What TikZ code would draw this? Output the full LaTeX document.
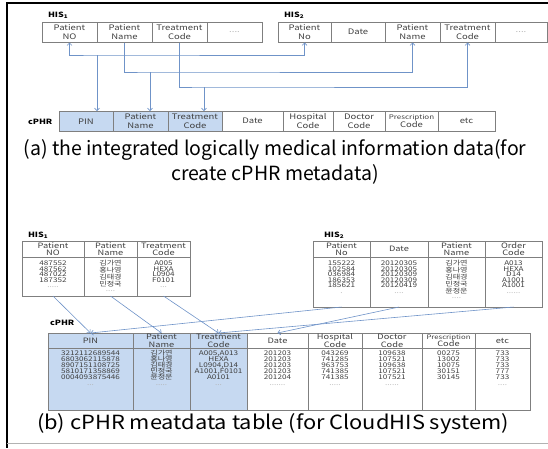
\documentclass[tikz,border=0pt]{standalone}
\usepackage{fontspec}
\setmainfont{Noto Sans CJK KR}
\newfontfamily\tabfont{Noto Sans CJK KR}[FakeStretch=1.25]
\newfontfamily\capwide{Noto Sans CJK KR}[FakeStretch=1.12]
\usetikzlibrary{arrows.meta}
\definecolor{linkblue}{HTML}{6F93C8}
\definecolor{keyfill}{HTML}{C6D9F1}
\definecolor{gridgray}{HTML}{7F7F7F}
\definecolor{txtgray}{HTML}{404040}
\newcommand{\dotsgray}[1]{{\color{gray!60}#1}}
\newcommand{\tightlines}{\lineskiplimit=-10pt\relax}
\newcommand{\colrows}[4]{\parbox[t][#2pt][t]{#1pt}{\centering\rule{0pt}{#3pt}#4}}

\begin{document}
\begin{tikzpicture}[
        x=1pt, y=-1pt,
        every node/.style={inner sep=0pt, outer sep=0pt, text=txtgray},
        cella/.style={draw=gridgray, line width=0.5pt, anchor=north west, align=center,
            minimum height=20.5pt, font=\tabfont\fontsize{7.6}{8.6}\selectfont\tightlines},
        cellb/.style={draw=gridgray, line width=0.5pt, anchor=north west, align=center,
            minimum height=16.5pt, font=\tabfont\fontsize{7.4}{7.6}\selectfont\tightlines},
        bodyb/.style={draw=gridgray, line width=0.5pt, anchor=north west,
            font=\tabfont\fontsize{6.5}{5.5}\selectfont\tightlines},
        bodyc/.style={bodyb, font=\tabfont\fontsize{6.5}{6}\selectfont\tightlines},
        key/.style={fill=keyfill},
        tname/.style={anchor=west, text=black, font=\tabfont\bfseries\fontsize{7.2}{8}\selectfont},
        caption/.style={align=center, text=black, font=\fontsize{19.5}{25}\selectfont},
        link/.style={draw=linkblue, line width=0.6pt},
        lnk/.tip={Straight Barb[length=2.5pt,width=5pt]}
    ]
    \useasboundingbox (0,0) rectangle (548,448);
    \draw[line width=1.2pt] (548,3) -- (7,3) -- (7,448);
    \draw[gray!60, line width=0.8pt] (7,443) -- (548,443);

    \node[tname] (his1a) at (48,15) {HIS\textsubscript{1}};
    \node[cella, minimum width=55] (a1n) at (42,22) {Patient\\NO};
    \node[cella, minimum width=55] (a1m) at (97,22) {Patient\\Name};
    \node[cella, minimum width=55] (a1t) at (152,22) {Treatment\\Code};
    \node[cella, minimum width=55] (a1e) at (207,22) {\dotsgray{....}};

    \node[tname] (his2a) at (284,15) {HIS\textsubscript{2}};
    \node[cella, minimum width=53] (a2n) at (278,22) {Patient\\No};
    \node[cella, minimum width=54] (a2d) at (331,22) {Date};
    \node[cella, minimum width=55] (a2m) at (385,22) {Patient\\Name};
    \node[cella, minimum width=55] (a2t) at (440,22) {Treatment\\Code};
    \node[cella, minimum width=52] (a2e) at (495,22) {\dotsgray{....}};

    \node[tname] (cphra) at (28,122) {cPHR};
    \node[cella, key, minimum width=54] (ap1) at (59,111) {PIN};
    \node[cella, key, minimum width=55] (ap2) at (113,111) {Patient\\Name};
    \node[cella, key, minimum width=54] (ap3) at (168,111) {Treatment\\Code};
    \node[cella, minimum width=61] (ap4) at (222,111) {Date};
    \node[cella, minimum width=50] (ap5) at (283,111) {Hospital\\Code};
    \node[cella, minimum width=52] (ap6) at (333,111) {Doctor\\Code};
    \node[cella, minimum width=53] (ap7) at (385,111) {{\fontsize{6.4}{8}\selectfont Prescription}\\Code};
    \node[cella, minimum width=57] (ap8) at (438,111) {etc};

    \coordinate (ja) at (97,55);
    \coordinate (jb) at (150,72);
    \coordinate (jc) at (204,87);
    \draw[link, lnk-lnk] (a1n.south) |- (ja) -| (a2n.south);
    \draw[link, -lnk] (a1m.south) |- (jb) -| (a2m.south);
    \draw[link, -lnk] (a1t.south) |- (jc) -| (a2t.south);
    \draw[link, -lnk] (ja) -- (ja |- ap1.north);
    \draw[link, -lnk] (jb) -- (jb |- ap2.north);
    \draw[link, -lnk] (jc) -- (jc |- ap3.north);

    \node[caption] (capa) at (275,162) {(a) the integrated logically medical information data(for\\create cPHR metadata)};

    \node[tname] (his1b) at (28,235) {HIS\textsubscript{1}};
    \node[cellb, minimum width=62] (bh1a) at (22,241) {Patient\\NO};
    \node[cellb, minimum width=53] (bh1b) at (84,241) {Patient\\Name};
    \node[cellb, minimum width=53] (bh1c) at (137,241) {Treatment\\Code};
    \node[bodyb] (bd1a) at (22,257.5) {\colrows{62}{38.5}{8}{487552\\487562\\487022\\187352\\\dotsgray{.....}}};
    \node[bodyb] (bd1b) at (84,257.5) {\colrows{53}{38.5}{8}{김가연\\홍나영\\김태경\\민정국\\\dotsgray{....}}};
    \node[bodyb] (bd1c) at (137,257.5) {\colrows{53}{38.5}{8}{A005\\HEXA\\L0904\\F0101\\\dotsgray{...}}};

    \node[tname] (his2b) at (324,235) {HIS\textsubscript{2}};
    \node[cellb, minimum width=57] (bh2a) at (313,241) {Patient\\No};
    \node[cellb, minimum width=58] (bh2b) at (370,241) {Date};
    \node[cellb, minimum width=57] (bh2c) at (428,241) {Patient\\Name};
    \node[cellb, minimum width=57] (bh2d) at (485,241) {Order\\Code};
    \node[bodyb] (bd2a) at (313,257.5) {\colrows{57}{49.5}{8}{155222\\102584\\036984\\186353\\185621\\\dotsgray{.}}};
    \node[bodyb] (bd2b) at (370,257.5) {\colrows{58}{49.5}{8}{20120305\\20120305\\20120309\\20120309\\20120419\\\dotsgray{....}}};
    \node[bodyb] (bd2c) at (428,257.5) {\colrows{57}{49.5}{8}{김가연\\홍나영\\김태경\\민정국\\윤정운\\\dotsgray{....}}};
    \node[bodyb] (bd2d) at (485,257.5) {\colrows{57}{49.5}{8}{A013\\HEXA\\D14\\A1001\\A1001\\\dotsgray{......}}};

    \node[tname] (cphrb) at (50,323) {cPHR};
    \node[cellb, key, minimum width=85, minimum height=15.5pt] (bc1) at (48,333) {PIN};
    \node[cellb, key, minimum width=57, minimum height=15.5pt] (bc2) at (133,333) {Patient\\Name};
    \node[cellb, key, minimum width=57, minimum height=15.5pt] (bc3) at (190,333) {Treatment\\Code};
    \node[cellb, minimum width=61, minimum height=15.5pt] (bc4) at (247,333) {Date};
    \node[cellb, minimum width=54, minimum height=15.5pt] (bc5) at (308,333) {Hospital\\Code};
    \node[cellb, minimum width=60, minimum height=15.5pt] (bc6) at (362,333) {Doctor\\Code};
    \node[cellb, minimum width=53, minimum height=15.5pt] (bc7) at (422,333) {{\fontsize{6.2}{7}\selectfont Prescription}\\Code};
    \node[cellb, minimum width=55, minimum height=15.5pt] (bc8) at (475,333) {etc};
    \node[bodyc, key] (bv1) at (48,348.5) {\colrows{85}{61.5}{7}{3212112689544\\6803062115878\\8907151108725\\5810171358869\\0004093875446\\\dotsgray{...}}};
    \node[bodyc, key] (bv2) at (133,348.5) {\colrows{57}{61.5}{7}{김가연\\홍나영\\김태경\\민정국\\윤정운\\\dotsgray{.....}}};
    \node[bodyc, key] (bv3) at (190,348.5) {\colrows{57}{61.5}{7}{A005,A013\\HEXA\\L0904,D14\\A1001,F0101\\A0101\\\dotsgray{...}}};
    \node[bodyc] (bv4) at (247,348.5) {\colrows{61}{61.5}{7}{201203\\201203\\201203\\201203\\201204\\\dotsgray{.......}}};
    \node[bodyc] (bv5) at (308,348.5) {\colrows{54}{61.5}{7}{043269\\741285\\963753\\741385\\741385\\\dotsgray{.....}}};
    \node[bodyc] (bv6) at (362,348.5) {\colrows{60}{61.5}{7}{109638\\107521\\109638\\107521\\107521\\\dotsgray{......}}};
    \node[bodyc] (bv7) at (422,348.5) {\colrows{53}{61.5}{7}{00275\\13002\\10075\\30151\\30145}};
    \node[bodyc] (bv8) at (475,348.5) {\colrows{55}{61.5}{7}{733\\733\\733\\777\\733\\\dotsgray{....}}};

    \draw[link, -lnk] (bd1a.south) -- (bc1.north);
    \draw[link, -lnk] (bd1b.south) -- (bc2.north);
    \draw[link, -lnk] (bd1c.south) -- (bc3.north);
    \draw[link, -lnk] (bd2a.south) -- (bc1.north);
    \draw[link, -lnk] (bd2b.south) -- (bc4.north);
    \draw[link, -lnk] (bd2d.south) -- (bc3.north);

    \node[caption, font=\capwide\fontsize{19.5}{25}\selectfont] (capb) at (273,424) {(b) cPHR meatdata table (for CloudHIS system)};
\end{tikzpicture}
\end{document}
